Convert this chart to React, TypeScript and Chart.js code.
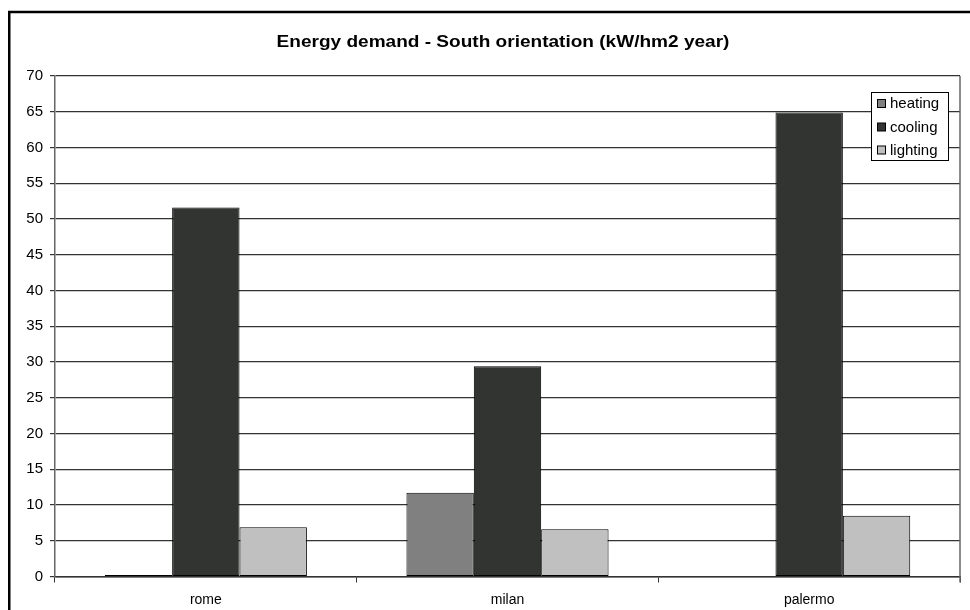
import React, { useEffect, useRef } from "react";
import { Chart, registerables } from "chart.js";

Chart.register(...registerables);

const TITLE = "Energy demand - South orientation (kW/hm2 year)";
const CATEGORIES = ["rome", "milan", "palermo"];
const SERIES_NAMES = ["heating", "cooling", "lighting"];
const HEATING = [0.2, 11.7, 0];
const COOLING = [51.6, 29.4, 64.9];
const LIGHTING = [6.9, 6.6, 8.5];
const SERIES_COLORS = ["#808080", "#323432", "#c0c0c0"];
const Y_MIN = 0;
const Y_MAX = 70;
const Y_STEP = 5;

const FONT = "'Liberation Sans', Arial, Helvetica, sans-serif";

const decorPlugin = {
  id: "decor",
  beforeDraw(chart: any) {
    const ctx = chart.ctx;
    ctx.save();
    ctx.fillStyle = "#ffffff";
    ctx.fillRect(0, 0, chart.width, chart.height);
    // outer frame
    ctx.strokeStyle = "#000000";
    ctx.lineWidth = 2.5;
    ctx.strokeRect(9.25, 12, 1000, 700);
    // title (slightly stretched horizontally, like the reference)
    ctx.fillStyle = "#000000";
    ctx.font = `bold 17px ${FONT}`;
    ctx.textAlign = "center";
    ctx.textBaseline = "alphabetic";
    ctx.translate(503, 47);
    ctx.scale(1.12, 1);
    ctx.fillText(TITLE, 0, 0);
    ctx.restore();
  },
  afterDraw(chart: any) {
    const ctx = chart.ctx;
    const area = chart.chartArea;
    ctx.save();
    // right border of plot area
    ctx.strokeStyle = "#666666";
    ctx.lineWidth = 1.5;
    ctx.beginPath();
    ctx.moveTo(area.right, area.top);
    ctx.lineTo(area.right, area.bottom + 6);
    ctx.stroke();
    // legend
    const bx = 871.5, by = 92.5, bw = 77, bh = 68;
    ctx.fillStyle = "#ffffff";
    ctx.fillRect(bx, by, bw, bh);
    ctx.strokeStyle = "#000000";
    ctx.lineWidth = 1;
    ctx.strokeRect(bx, by, bw, bh);
    const rows = [104, 127.5, 150.5];
    ctx.font = `15px ${FONT}`;
    ctx.textAlign = "left";
    ctx.textBaseline = "middle";
    SERIES_NAMES.forEach((name, i) => {
      const y = rows[i];
      ctx.fillStyle = SERIES_COLORS[i];
      ctx.fillRect(877.5, y - 4.5, 8, 8);
      ctx.strokeStyle = "#000000";
      ctx.strokeRect(877.5, y - 4.5, 8, 8);
      ctx.fillStyle = "#000000";
      ctx.fillText(name, 890, y);
    });
    ctx.restore();
  },
};

export default function App() {
  const ref = useRef<HTMLCanvasElement | null>(null);
  useEffect(() => {
    if (!ref.current) return;
    const data = [HEATING, COOLING, LIGHTING];
    const chart = new Chart(ref.current, {
      type: "bar",
      data: {
        labels: CATEGORIES,
        datasets: SERIES_NAMES.map((name, i) => ({
          label: name,
          data: data[i],
          backgroundColor: SERIES_COLORS[i],
          borderColor: "#000000",
          borderWidth: 1,
          borderSkipped: false,
          categoryPercentage: 0.67,
          barPercentage: 1,
        })),
      },
      options: {
        responsive: false,
        animation: false,
        devicePixelRatio: 1,
        layout: { padding: { left: 0, right: 10, top: 76, bottom: 0 } },
        plugins: {
          legend: { display: false },
          title: { display: false },
          tooltip: { enabled: false },
        },
        scales: {
          x: {
            offset: true,
            grid: {
              offset: true,
              drawOnChartArea: false,
              drawTicks: true,
              tickLength: 6,
              tickColor: "#333333",
            },
            border: { color: "#333333", width: 1.5 },
            ticks: {
              color: "#000000",
              font: { family: FONT, size: 14 },
              padding: 9,
              maxRotation: 0,
            },
            afterFit(scale: any) {
              scale.height = 33.5;
            },
          },
          y: {
            min: Y_MIN,
            max: Y_MAX,
            grid: {
              color: "#333333",
              lineWidth: 1.2,
              drawTicks: true,
              tickLength: 5,
              tickColor: "#333333",
            },
            border: { color: "#666666", width: 1.5 },
            ticks: {
              stepSize: Y_STEP,
              color: "#000000",
              font: { family: FONT, size: 15 },
              padding: 7,
            },
            afterFit(scale: any) {
              scale.width = 55;
            },
          },
        },
      },
      plugins: [decorPlugin],
    });
    return () => chart.destroy();
  }, []);
  return (
    <div style={{ position: "absolute", left: 0, top: 0, width: 970, height: 610 }}>
      <canvas ref={ref} width={970} height={610} style={{ display: "block" }} />
    </div>
  );
}
